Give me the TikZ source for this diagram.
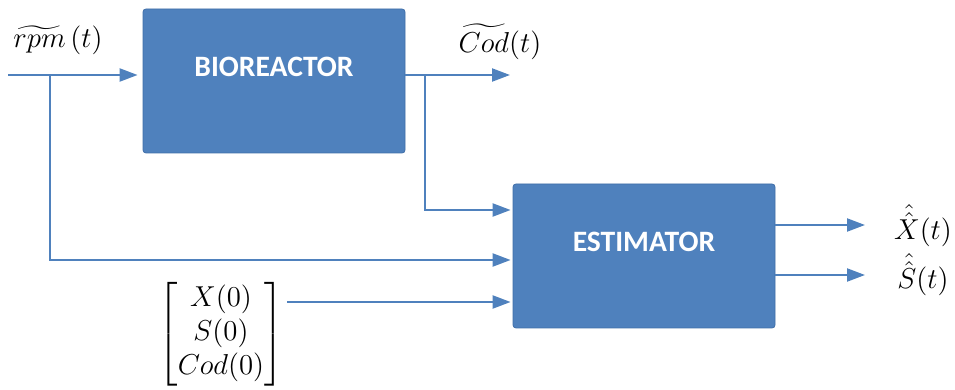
\documentclass[tikz,border=0pt]{standalone}
\usepackage{amsmath}
\usepackage{fontspec}
\setsansfont{Carlito}
\usetikzlibrary{arrows.meta}
\definecolor{boxblue}{HTML}{4F81BD}
\definecolor{boxedge}{HTML}{3F6EA8}
\begin{document}
\begin{tikzpicture}[x=0.5pt,y=-0.5pt,
  blockbox/.style={fill=boxblue,draw=boxedge,line width=0.4pt,rounded corners=1.5pt,
    minimum width=131pt,minimum height=72pt,inner sep=0pt,text depth=14pt,
    text=white,font=\sffamily\bfseries\fontsize{14.8}{17}\selectfont},
  wire/.style={draw=boxblue,line width=1.1pt},
  flow/.style={wire,-{Triangle[length=9pt,width=6.5pt]}},
  lbl/.style={inner sep=0pt,font=\fontsize{15}{18}\selectfont}]
\useasboundingbox (0,0) rectangle (955,390);

% blocks
\node[blockbox] (bio) at (274,81) {BIOREACTOR};
\node[blockbox] (est) at (644,256) {ESTIMATOR};

% input rpm and its branch to the estimator
\coordinate (in) at (8,75);
\coordinate (rpmsplit) at (50,75);
\coordinate (rpmdown) at (50,260);
\draw[flow] (in) -- ([xshift=-2.5pt]bio.west |- in);
\draw[flow] (rpmsplit) -- (rpmdown) -- ([xshift=-1pt]est.west |- rpmdown);
\node[lbl] (rpm) at (58,40) {$\widetilde{rpm}\,(t)$};

% measured Cod output and its branch to the estimator
\coordinate (codout) at (bio.east |- in);
\coordinate (codend) at (510,75);
\coordinate (codsplit) at (425,75);
\coordinate (coddown) at (425,210);
\draw[flow] (codout) -- (codend);
\draw[flow] (codsplit) -- (coddown) -- ([xshift=-1pt]est.west |- coddown);
\node[lbl] (cod) at (500,42) {$\widetilde{Cod}(t)$};

% initial conditions
\node[lbl,font=\fontsize{15}{17}\selectfont] (init) at (221,334)
  {$\begin{bmatrix} X(0)\\ S(0)\\ Cod(0)\end{bmatrix}$};
\coordinate (initout) at (287,302);
\draw[flow] (initout) -- ([xshift=-1pt]est.west |- initout);

% estimated states
\coordinate (xo) at (est.east |- 0,225);
\coordinate (so) at (est.east |- 0,275);
\coordinate (xe) at (865,225);
\coordinate (se) at (865,275);
\draw[flow] (xo) -- (xe);
\draw[flow] (so) -- (se);
\node[lbl] (xhat) at (923,226) {$\hat{\hat{X}}(t)$};
\node[lbl] (shat) at (923,275) {$\hat{\hat{S}}(t)$};
\end{tikzpicture}
\end{document}
